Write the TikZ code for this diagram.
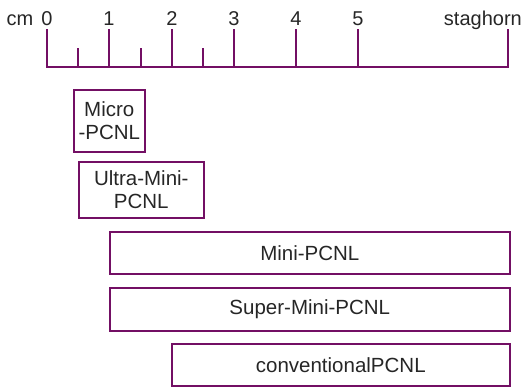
\documentclass[tikz,border=0pt]{standalone}
\usepackage{fontspec}
\setmainfont{Liberation Sans}
\definecolor{rulerPurple}{RGB}{115,15,100}
\colorlet{labelGray}{black!85}
\tikzset{
    rulerline/.style={draw=rulerPurple, line width=2pt},
    scalelabel/.style={text=labelGray, inner sep=0pt, anchor=base, font=\fontsize{20}{24}\selectfont},
    sizebox/.style={draw=rulerPurple, line width=1.6pt, text=labelGray, align=center, inner sep=0pt, anchor=north west, font=\fontsize{20.5}{23.6}\selectfont},
}

\begin{document}
\begin{tikzpicture}[x=1pt,y=-1pt]
    \useasboundingbox (0,0) rectangle (528,386);
    \draw[rulerline] (47,29) -- (47,67) -- (508,67) -- (508,29);
    \foreach \x in {109,172,234,296,358} \draw[rulerline] (\x,29) -- (\x,67);
    \foreach \x in {78,141,203} \draw[rulerline] (\x,48) -- (\x,67);
    \node[scalelabel] (cm) at (20,25) {cm};
    \foreach \x/\n in {47/0,109/1,172/2,234/3,296/4,358/5}
        \node[scalelabel] (mark\n) at (\x,25) {\n};
    \node[scalelabel, anchor=base east] (staghorn) at (522,25) {staghorn};
    \node[sizebox, minimum width=71pt, minimum height=62pt] (micro) at (73,89) {Micro\\-PCNL};
    \node[sizebox, minimum width=125pt, minimum height=56pt] (ultra) at (78,161) {Ultra-Mini-\\PCNL};
    \node[sizebox, minimum width=400pt, minimum height=42pt] (mini) at (109,231) {Mini-PCNL};
    \node[sizebox, minimum width=400pt, minimum height=43pt] (supermini) at (109,287) {Super-Mini-PCNL};
    \node[sizebox, minimum width=338pt, minimum height=42pt] (conventional) at (171,343) {conventionalPCNL};
\end{tikzpicture}
\end{document}
